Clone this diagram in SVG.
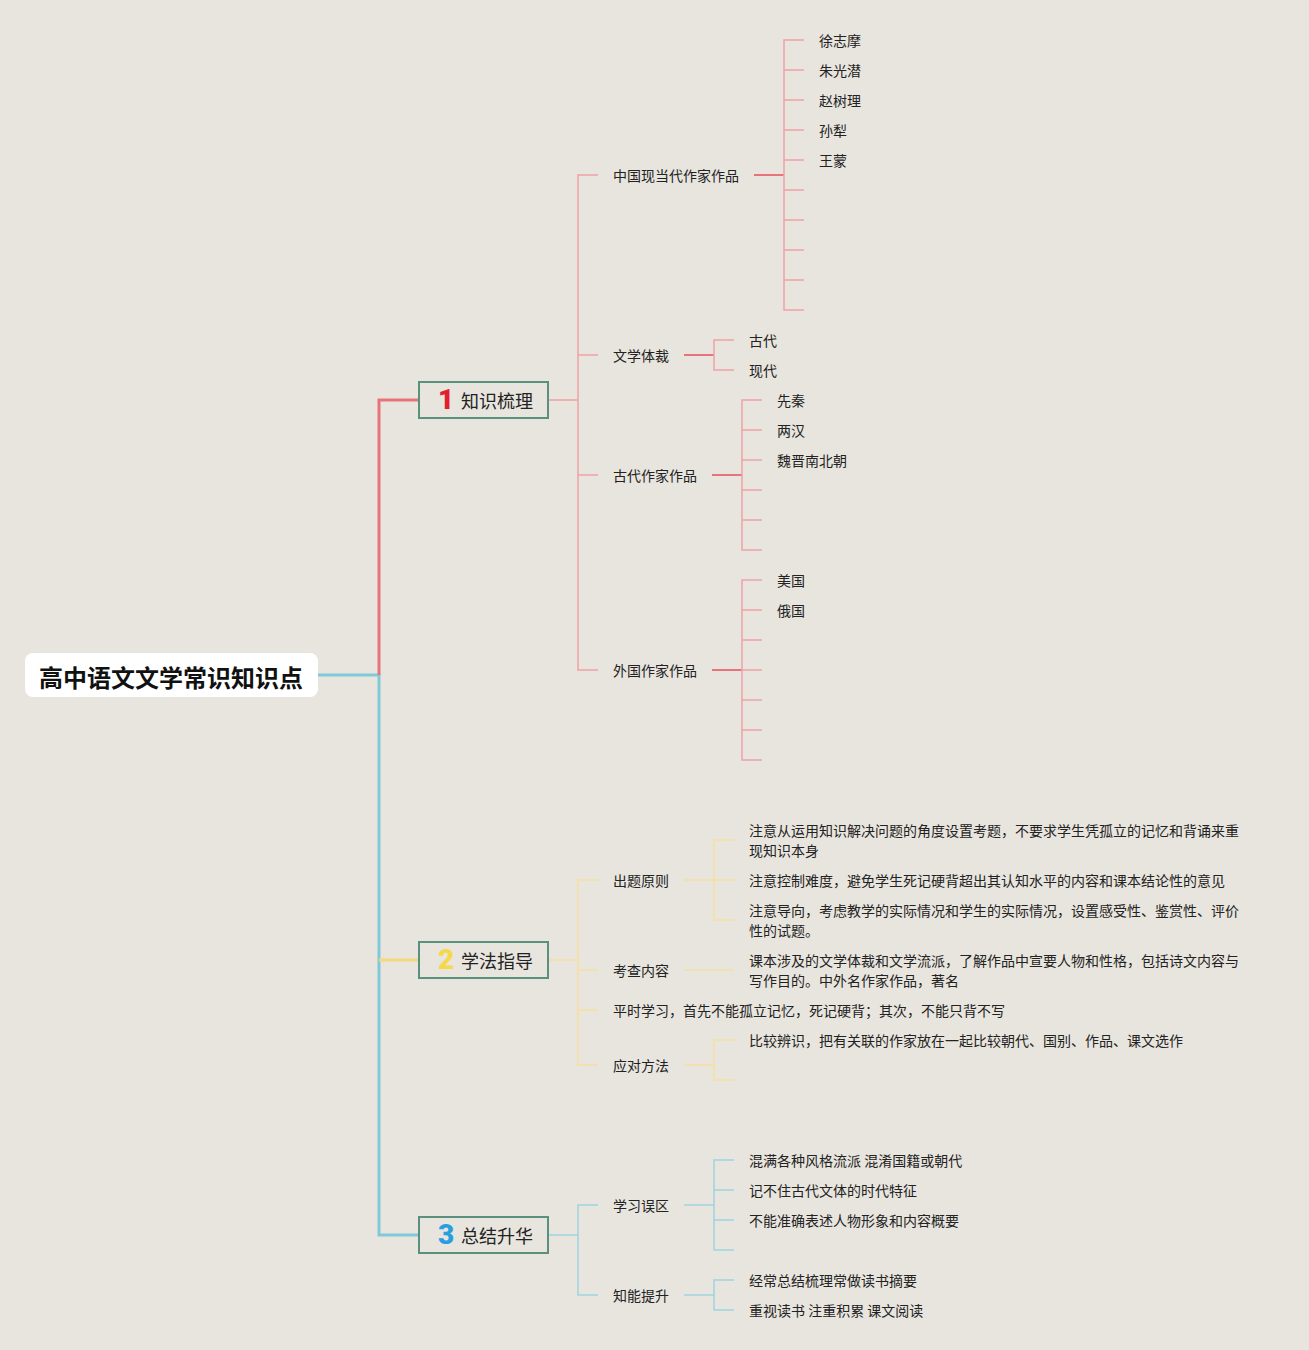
<svg xmlns="http://www.w3.org/2000/svg" width="1309" height="1350" viewBox="0 0 1309 1350">
<style>
.t{font-family:"Noto Sans CJK SC","Noto Sans",sans-serif;font-size:14px;fill:#222;dominant-baseline:central}
.b{font-family:"Noto Sans CJK SC","Noto Sans",sans-serif;font-size:18px;fill:#222;dominant-baseline:central}
.n{font-family:Roboto,"Noto Sans",sans-serif;font-size:28px;font-weight:900;dominant-baseline:central}
.root{font-family:"Noto Sans CJK SC","Noto Sans",sans-serif;font-size:24px;font-weight:bold;fill:#111;dominant-baseline:central}
.box{fill:#e8e5de;stroke:#5b907f;stroke-width:2}
.r1{fill:none;stroke:#e9737a;stroke-width:3}
.r2{fill:none;stroke:#eea2a6;stroke-width:1.5}
.y1{fill:none;stroke:#f6d67a;stroke-width:3}
.y2{fill:none;stroke:#f5dea0;stroke-width:1.5}
.c1{fill:none;stroke:#7fcad6;stroke-width:3}
.c2{fill:none;stroke:#9dd4de;stroke-width:1.5}
</style>
<rect width="1309" height="1350" fill="#e8e5de"/>
<g id="connectors">
<path class="c1" d="M318 675 H379 V1235 H418"/>
<path class="r1" d="M379 675 V400 H418"/>
<path class="y1" d="M379 960 H418"/>
<path class="r2" d="M548 400 H578 M598 175 H578 V670 H598 M578 355 H598 M578 475 H598"/>
<path class="r1" d="M754 175 H784" style="stroke-width:2"/>
<path class="r2" d="M804 40 H784 V310 H804 M784 70 H804 M784 100 H804 M784 130 H804 M784 160 H804 M784 190 H804 M784 220 H804 M784 250 H804 M784 280 H804"/>
<path class="r1" d="M684 355 H714" style="stroke-width:2"/>
<path class="r2" d="M734 340 H714 V370 H734"/>
<path class="r1" d="M712 475 H742" style="stroke-width:2"/>
<path class="r2" d="M762 400 H742 V550 H762 M742 430 H762 M742 460 H762 M742 490 H762 M742 520 H762"/>
<path class="r1" d="M712 670 H742" style="stroke-width:2"/>
<path class="r2" d="M762 580 H742 V760 H762 M742 610 H762 M742 640 H762 M742 670 H762 M742 700 H762 M742 730 H762"/>
<path class="y2" d="M548 960 H578 M598 880 H578 V1065 H598 M578 970 H598 M578 1010 H598"/>
<path class="y2" d="M684 880 H714 M734 840 H714 V920 H734 M714 880 H734"/>
<path class="y2" d="M684 970 H734"/>
<path class="y2" d="M684 1065 H714 M734 1040 H714 V1080 H734"/>
<path class="c2" d="M548 1235 H578 M598 1205 H578 V1295 H598"/>
<path class="c2" d="M684 1205 H714 M734 1160 H714 V1250 H734 M714 1190 H734 M714 1220 H734"/>
<path class="c2" d="M684 1295 H714 M734 1280 H714 V1310 H734"/>
</g>
<g id="root">
<rect x="25" y="653" width="293" height="44" rx="8" fill="#fff"/>
<text class="root" x="171" y="676" text-anchor="middle">高中语文文学常识知识点</text>
</g>
<g id="b1">
<rect class="box" x="419" y="382" width="129" height="36"/>
<text class="n" x="446" y="399" text-anchor="middle" fill="#e0202e">1</text>
<text class="b" x="461" y="400">知识梳理</text>
</g>
<g id="b2">
<rect class="box" x="419" y="942" width="129" height="36"/>
<text class="n" x="446" y="959" text-anchor="middle" fill="#f5d94a">2</text>
<text class="b" x="461" y="960">学法指导</text>
</g>
<g id="b3">
<rect class="box" x="419" y="1217" width="129" height="36"/>
<text class="n" x="446" y="1234" text-anchor="middle" fill="#2a9fde">3</text>
<text class="b" x="461" y="1235">总结升华</text>
</g>
<g transform="translate(0,-1)">
<g id="n1">
<text class="t" x="613" y="176">中国现当代作家作品</text>
<text class="t" x="819" y="41">徐志摩</text>
<text class="t" x="819" y="71">朱光潜</text>
<text class="t" x="819" y="101">赵树理</text>
<text class="t" x="819" y="131">孙犁</text>
<text class="t" x="819" y="161">王蒙</text>
</g>
<g id="n2">
<text class="t" x="613" y="356">文学体裁</text>
<text class="t" x="749" y="341">古代</text>
<text class="t" x="749" y="371">现代</text>
</g>
<g id="n3">
<text class="t" x="613" y="476">古代作家作品</text>
<text class="t" x="777" y="401">先秦</text>
<text class="t" x="777" y="431">两汉</text>
<text class="t" x="777" y="461">魏晋南北朝</text>
</g>
<g id="n4">
<text class="t" x="613" y="671">外国作家作品</text>
<text class="t" x="777" y="581">美国</text>
<text class="t" x="777" y="611">俄国</text>
</g>
<g id="n5">
<text class="t" x="613" y="881">出题原则</text>
<text class="t" x="749" y="831">注意从运用知识解决问题的角度设置考题，不要求学生凭孤立的记忆和背诵来重</text>
<text class="t" x="749" y="851">现知识本身</text>
<text class="t" x="749" y="881">注意控制难度，避免学生死记硬背超出其认知水平的内容和课本结论性的意见</text>
<text class="t" x="749" y="911">注意导向，考虑教学的实际情况和学生的实际情况，设置感受性、鉴赏性、评价</text>
<text class="t" x="749" y="931">性的试题。</text>
</g>
<g id="n6">
<text class="t" x="613" y="971">考查内容</text>
<text class="t" x="749" y="961">课本涉及的文学体裁和文学流派，了解作品中宣要人物和性格，包括诗文内容与</text>
<text class="t" x="749" y="981">写作目的。中外名作家作品，著名</text>
</g>
<g id="n7">
<text class="t" x="613" y="1011">平时学习，首先不能孤立记忆，死记硬背；其次，不能只背不写</text>
</g>
<g id="n8">
<text class="t" x="613" y="1066">应对方法</text>
<text class="t" x="749" y="1041">比较辨识，把有关联的作家放在一起比较朝代、国别、作品、课文选作</text>
</g>
<g id="n9">
<text class="t" x="613" y="1206">学习误区</text>
<text class="t" x="749" y="1161">混满各种风格流派 混淆国籍或朝代</text>
<text class="t" x="749" y="1191">记不住古代文体的时代特征</text>
<text class="t" x="749" y="1221">不能准确表述人物形象和内容概要</text>
</g>
<g id="n10">
<text class="t" x="613" y="1296">知能提升</text>
<text class="t" x="749" y="1281">经常总结梳理常做读书摘要</text>
<text class="t" x="749" y="1311">重视读书 注重积累 课文阅读</text>
</g>
</g>
</svg>
